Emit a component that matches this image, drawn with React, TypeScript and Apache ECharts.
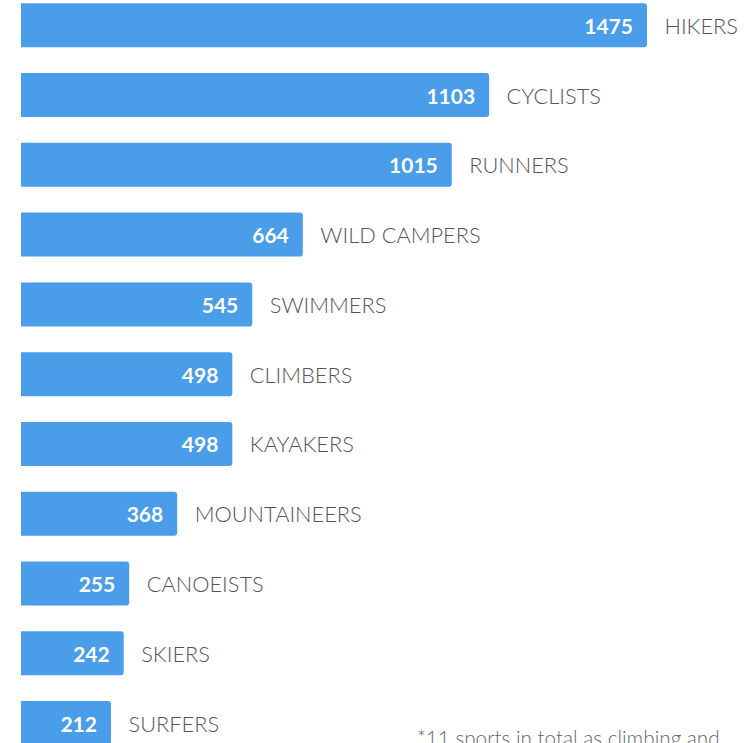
import React, { useEffect, useRef } from "react";
import * as echarts from "echarts";

const categories = [
  "HIKERS",
  "CYCLISTS",
  "RUNNERS",
  "WILD CAMPERS",
  "SWIMMERS",
  "CLIMBERS",
  "KAYAKERS",
  "MOUNTAINEERS",
  "CANOEISTS",
  "SKIERS",
  "SURFERS",
];
const values = [1475, 1103, 1015, 664, 545, 498, 498, 368, 255, 242, 212];
const footnote = "*11 sports in total as climbing and";

export default function App() {
  const ref = useRef<HTMLDivElement>(null);
  useEffect(() => {
    if (!ref.current) return;
    const chart = echarts.init(ref.current, undefined, { renderer: "svg" });
    chart.setOption({
      animation: false,
      grid: {
        left: 21,
        top: -9.6,
        width: 636.6,
        height: 767.5,
        containLabel: false,
        outerBoundsMode: "none",
      },
      xAxis: {
        type: "value",
        min: 0,
        max: 1500,
        show: false,
      },
      yAxis: {
        type: "category",
        data: categories,
        inverse: true,
        show: false,
      },
      series: [
        {
          type: "bar",
          data: values,
          barWidth: 44,
          itemStyle: { color: "#4a9de8", borderRadius: [0, 3, 3, 0] },
          label: {
            show: true,
            position: "insideRight",
            distance: 14,
            color: "#ffffff",
            fontFamily: "Lato",
            fontWeight: "bold",
            fontSize: 21,
            formatter: "{c}",
          },
          z: 2,
        },
        {
          type: "bar",
          data: values,
          barWidth: 44,
          barGap: "-100%",
          itemStyle: { color: "rgba(0,0,0,0)" },
          label: {
            show: true,
            position: "right",
            distance: 17.5,
            color: "#555555",
            fontFamily: "Lato",
            fontWeight: 300,
            fontSize: 21.8,
            formatter: "{b}",
          },
          silent: true,
          z: 1,
        },
      ],
      graphic: [
        {
          type: "text",
          left: 417,
          top: 727,
          style: {
            text: footnote,
            fill: "#666666",
            font: "300 20.7px Lato",
          },
        },
      ],
    });
    return () => chart.dispose();
  }, []);
  return (
    <div
      ref={ref}
      style={{ position: "fixed", left: 0, top: 0, width: 750, height: 743, background: "#fff" }}
    />
  );
}
